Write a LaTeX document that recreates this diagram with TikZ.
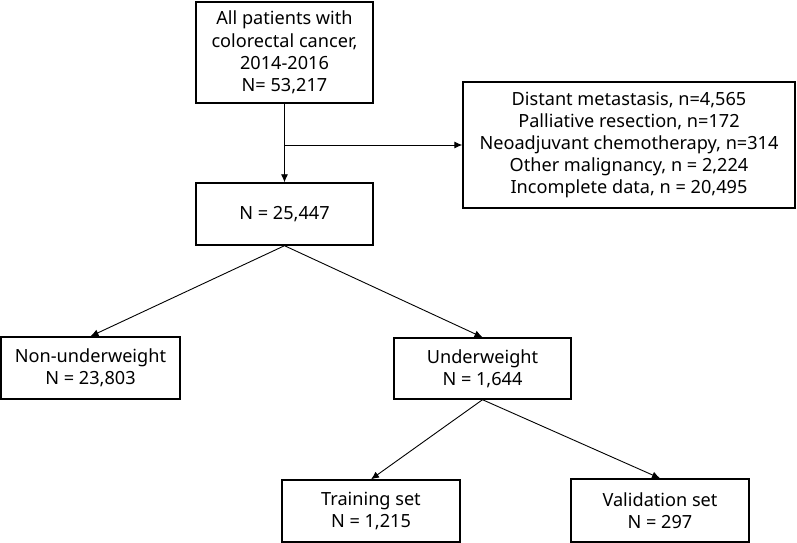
\documentclass[tikz,border=0pt]{standalone}
\usepackage{fontspec}
\setmainfont{Noto Sans}
\usetikzlibrary{arrows.meta}

\begin{document}
\begin{tikzpicture}[x=1bp,y=-1bp,
    box/.style={draw,line width=1.4bp,align=center,inner sep=0pt,
        font=\fontsize{18.2}{22.3}\selectfont},
    arr/.style={-{Latex[length=8bp,width=7bp]},line width=0.9bp}]
    \useasboundingbox (0,0) rectangle (797,543);
    \node[box,minimum width=177bp,minimum height=101bp] (all) at (284.5,52.5)
        {All patients with\\colorectal cancer,\\2014-2016\\N= 53,217};
    \node[box,minimum width=332bp,minimum height=126bp] (excl) at (629,145)
        {Distant metastasis, n=4,565\\Palliative resection, n=172\\Neoadjuvant chemotherapy, n=314\\Other malignancy, n = 2,224\\Incomplete data, n = 20,495};
    \node[box,minimum width=177bp,minimum height=62bp] (elig) at (284.5,214) {N = 25,447};
    \node[box,minimum width=179bp,minimum height=62bp] (nonuw) at (90.5,368) {Non-underweight\\N = 23,803};
    \node[box,minimum width=177bp,minimum height=61bp] (uw) at (482.5,368.5) {Underweight\\N = 1,644};
    \node[box,minimum width=178bp,minimum height=62bp] (train) at (371,511) {Training set\\N = 1,215};
    \node[box,minimum width=178bp,minimum height=63bp] (valid) at (660,510.5) {Validation set\\N = 297};

    \coordinate (split) at (all.south |- excl.west);
    \draw[arr] (all.south) -- (elig.north);
    \draw[arr] (split) -- (excl.west);
    \draw[arr] (elig.south) -- (nonuw.north);
    \draw[arr] (elig.south) -- (uw.north);
    \draw[arr] (uw.south) -- (train.north);
    \draw[arr] (uw.south) -- (valid.north);
\end{tikzpicture}
\end{document}
